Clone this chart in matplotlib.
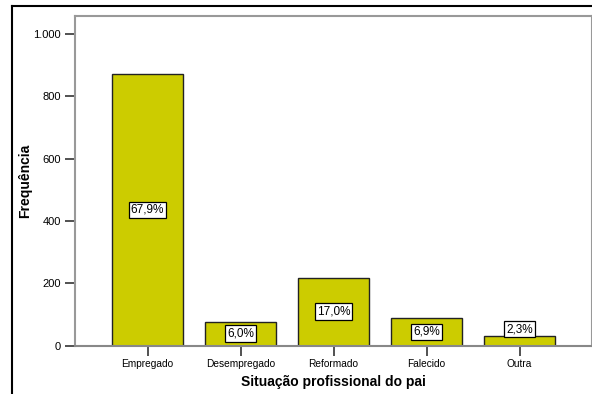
import matplotlib
matplotlib.use("Agg")
import matplotlib.pyplot as plt
import numpy as np
from matplotlib.lines import Line2D

plt.rcParams['font.family'] = ['Liberation Sans', 'DejaVu Sans']

# Dados
categorias = ["Empregado", "Desempregado", "Reformado", "Falecido", "Outra"]
frequencias = [871, 77, 218, 89, 30]
percentagens = ["67,9%", "6,0%", "17,0%", "6,9%", "2,3%"]
yticks = [0, 200, 400, 600, 800, 1000]
ytick_labels = ["0", "200", "400", "600", "800", "1.000"]

fig = plt.figure(figsize=(5.92, 3.94), dpi=100)
ax = fig.add_axes([75 / 592, 1 - 345.5 / 394, (591.7 - 75) / 592, (345.5 - 16) / 394])

x = np.arange(len(categorias))
ax.bar(x, frequencias, width=0.757, color="#cccc00", edgecolor="#222222", linewidth=1.0, zorder=2)

caixa = dict(boxstyle="square,pad=0.18", fc="white", ec="black", lw=0.9)
for xi, v, p in zip(x, frequencias, percentagens):
    if v < 50:
        ax.text(xi, v + 3, p, ha="center", va="bottom", fontsize=8.5, zorder=3, bbox=caixa)
    else:
        ax.text(xi, v / 2, p, ha="center", va="center", fontsize=8.5, zorder=3, bbox=caixa)

ax.set_xlim(-0.78, 4.776)
ax.set_ylim(0, 1058)
ax.set_xticks(x)
ax.set_xticklabels(categorias, fontsize=7.3)
ax.set_yticks(yticks)
ax.set_yticklabels(ytick_labels, fontsize=8)
ax.tick_params(axis="both", direction="out", length=7, width=1.2, color="#333333", pad=3)

for s in ax.spines.values():
    s.set_color("#999999")
    s.set_linewidth(1.5)
ax.spines["bottom"].set_color("#888888")

ax.set_xlabel("Situação profissional do pai", fontsize=10, fontweight="bold", labelpad=4)
ax.set_ylabel("Frequência", fontsize=10, fontweight="bold")
ax.yaxis.set_label_coords(-0.083, 0.5)

# moldura exterior (esquerda e topo)
fig.add_artist(Line2D([11.5 / 592, 11.5 / 592], [0, 1 - 6 / 394], color="black", lw=1.5))
fig.add_artist(Line2D([11.5 / 592, 1], [1 - 6 / 394, 1 - 6 / 394], color="black", lw=1.5))

fig.savefig("out.png", dpi=100)
